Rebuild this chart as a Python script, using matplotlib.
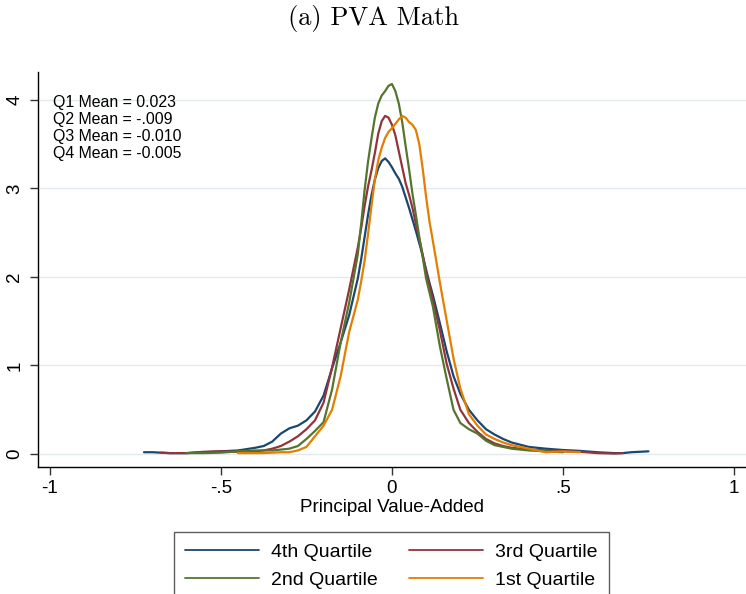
import matplotlib
matplotlib.use("Agg")
import matplotlib.pyplot as plt
import numpy as np

# principal value-added grid and kernel density by quartile
pva = [-0.725, -0.70, -0.675, -0.65, -0.60, -0.55, -0.50, -0.45, -0.40, -0.375,
       -0.35, -0.325, -0.30, -0.275, -0.25, -0.225, -0.20, -0.175, -0.15, -0.125,
       -0.10, -0.09, -0.08, -0.07, -0.06, -0.05, -0.04, -0.03, -0.02, -0.01,
       0.0, 0.01, 0.02, 0.03, 0.04, 0.05, 0.06, 0.07, 0.08, 0.09,
       0.10, 0.11, 0.12, 0.14, 0.16, 0.18, 0.20, 0.225, 0.25, 0.275,
       0.30, 0.325, 0.35, 0.40, 0.45, 0.50, 0.55, 0.60, 0.65, 0.675,
       0.70, 0.75]

nan = np.nan
dens_q4 = [0.02, 0.02, 0.015, 0.01, 0.01, 0.02, 0.03, 0.04, 0.07, 0.09,
           0.14, 0.23, 0.29, 0.32, 0.38, 0.48, 0.66, 0.97, 1.26, 1.57,
           1.98, 2.20, 2.45, 2.70, 2.92, 3.10, 3.23, 3.31, 3.34, 3.30,
           3.24, 3.17, 3.11, 3.02, 2.90, 2.78, 2.65, 2.52, 2.38, 2.24,
           2.08, 1.93, 1.79, 1.48, 1.16, 0.88, 0.68, 0.50, 0.38, 0.28,
           0.22, 0.17, 0.13, 0.08, 0.06, 0.045, 0.035, 0.02, 0.01, 0.01,
           0.02, 0.03]
dens_q3 = [nan, nan, 0.015, 0.01, 0.01, 0.025, 0.03, 0.025, 0.03, 0.04,
           0.06, 0.09, 0.14, 0.20, 0.28, 0.38, 0.58, 0.98, 1.42, 1.86,
           2.33, 2.55, 2.80, 3.02, 3.20, 3.40, 3.62, 3.76, 3.82, 3.80,
           3.72, 3.60, 3.42, 3.24, 3.06, 2.93, 2.78, 2.60, 2.43, 2.25,
           2.05, 1.90, 1.73, 1.40, 1.02, 0.74, 0.50, 0.35, 0.25, 0.17,
           0.12, 0.09, 0.07, 0.05, 0.04, 0.03, 0.025, 0.01, 0.005, 0.01,
           nan, nan]
dens_q2 = [nan, nan, nan, nan, 0.01, 0.01, 0.015, 0.03, 0.04, 0.04,
           0.04, 0.05, 0.06, 0.09, 0.17, 0.26, 0.36, 0.73, 1.26, 1.71,
           2.25, 2.60, 2.98, 3.30, 3.56, 3.80, 3.96, 4.05, 4.10, 4.16,
           4.18, 4.10, 3.96, 3.75, 3.48, 3.22, 2.94, 2.70, 2.45, 2.22,
           1.98, 1.82, 1.66, 1.22, 0.85, 0.50, 0.35, 0.28, 0.23, 0.15,
           0.10, 0.08, 0.06, 0.04, 0.03, 0.02, nan, nan, nan, nan,
           nan, nan]
dens_q1 = [nan, nan, nan, nan, nan, nan, nan, 0.01, 0.01, 0.01,
           0.015, 0.02, 0.02, 0.04, 0.08, 0.20, 0.32, 0.50, 0.88, 1.38,
           1.74, 1.95, 2.18, 2.48, 2.80, 3.10, 3.32, 3.46, 3.57, 3.64,
           3.68, 3.73, 3.78, 3.82, 3.80, 3.75, 3.72, 3.66, 3.50, 3.22,
           2.90, 2.62, 2.40, 1.94, 1.51, 1.08, 0.74, 0.45, 0.32, 0.22,
           0.17, 0.13, 0.10, 0.06, 0.02, 0.03, 0.02, nan, nan, nan,
           nan, nan]

quartile_labels = ["4th Quartile", "3rd Quartile", "2nd Quartile", "1st Quartile"]
quartile_colors = ["#1a476f", "#90353b", "#55752f", "#e37e00"]
mean_notes = ["Q1 Mean = 0.023", "Q2 Mean = -.009",
              "Q3 Mean = -0.010", "Q4 Mean = -0.005"]

x_ticks = [-1, -0.5, 0, 0.5, 1]
x_tick_labels = ["-1", "-.5", "0", ".5", "1"]
y_ticks = [0, 1, 2, 3, 4]

plt.rcParams["font.family"] = ["Liberation Sans", "DejaVu Sans"]

fig = plt.figure(figsize=(7.46, 5.94), dpi=100)
ax = fig.add_axes([0.0509, 0.2138, 0.949, 0.665])

lines = []
for dens, label, color in zip([dens_q4, dens_q3, dens_q2, dens_q1],
                              quartile_labels, quartile_colors):
    (ln,) = ax.plot(pva, dens, color=color, lw=1.6, label=label,
                    solid_joinstyle="round", solid_capstyle="round")
    lines.append(ln)

ax.set_xlim(-1.035, 1.035)
ax.set_ylim(-0.147, 4.316)
ax.set_xticks(x_ticks)
ax.set_xticklabels(x_tick_labels)
ax.set_yticks(y_ticks)
ax.set_yticklabels([str(v) for v in y_ticks], rotation=90, va="center")
ax.tick_params(axis="both", direction="out", length=5.5, width=1.0,
               color="#333333", labelsize=13.5, pad=4)
ax.tick_params(axis="y", pad=5)

ax.grid(axis="y", color="#e3eaee", lw=1.0)
ax.set_axisbelow(True)
for side in ["top", "right"]:
    ax.spines[side].set_visible(False)
for side in ["left", "bottom"]:
    ax.spines[side].set_linewidth(1.0)
    ax.spines[side].set_color("black")

ax.set_xlabel("Principal Value-Added", fontsize=13.5, labelpad=1.5)

ax.text(0.0215, 0.941, "\n".join(mean_notes), transform=ax.transAxes,
        fontsize=11.4, va="top", ha="left", linespacing=1.17)

fig.text(0.5, 0.969, "(a) PVA Math", family="cmr10", fontsize=19,
         ha="center", va="center")

# legend rows: 4th / 3rd on top, 2nd / 1st below
order = [0, 2, 1, 3]
leg = fig.legend([lines[i] for i in order], [quartile_labels[i] for i in order],
                 ncol=2, loc="upper center", bbox_to_anchor=(391.5 / 746, 1 - 532 / 594),
                 fontsize=14, frameon=True, fancybox=False, handlelength=3.8,
                 handletextpad=0.62, columnspacing=1.6, labelspacing=0.52,
                 borderpad=0.6, borderaxespad=0)
leg.get_frame().set_edgecolor("#333333")
leg.get_frame().set_linewidth(1.0)
for h in leg.get_lines():
    h.set_linewidth(1.3)

fig.savefig("out.png", dpi=100)
